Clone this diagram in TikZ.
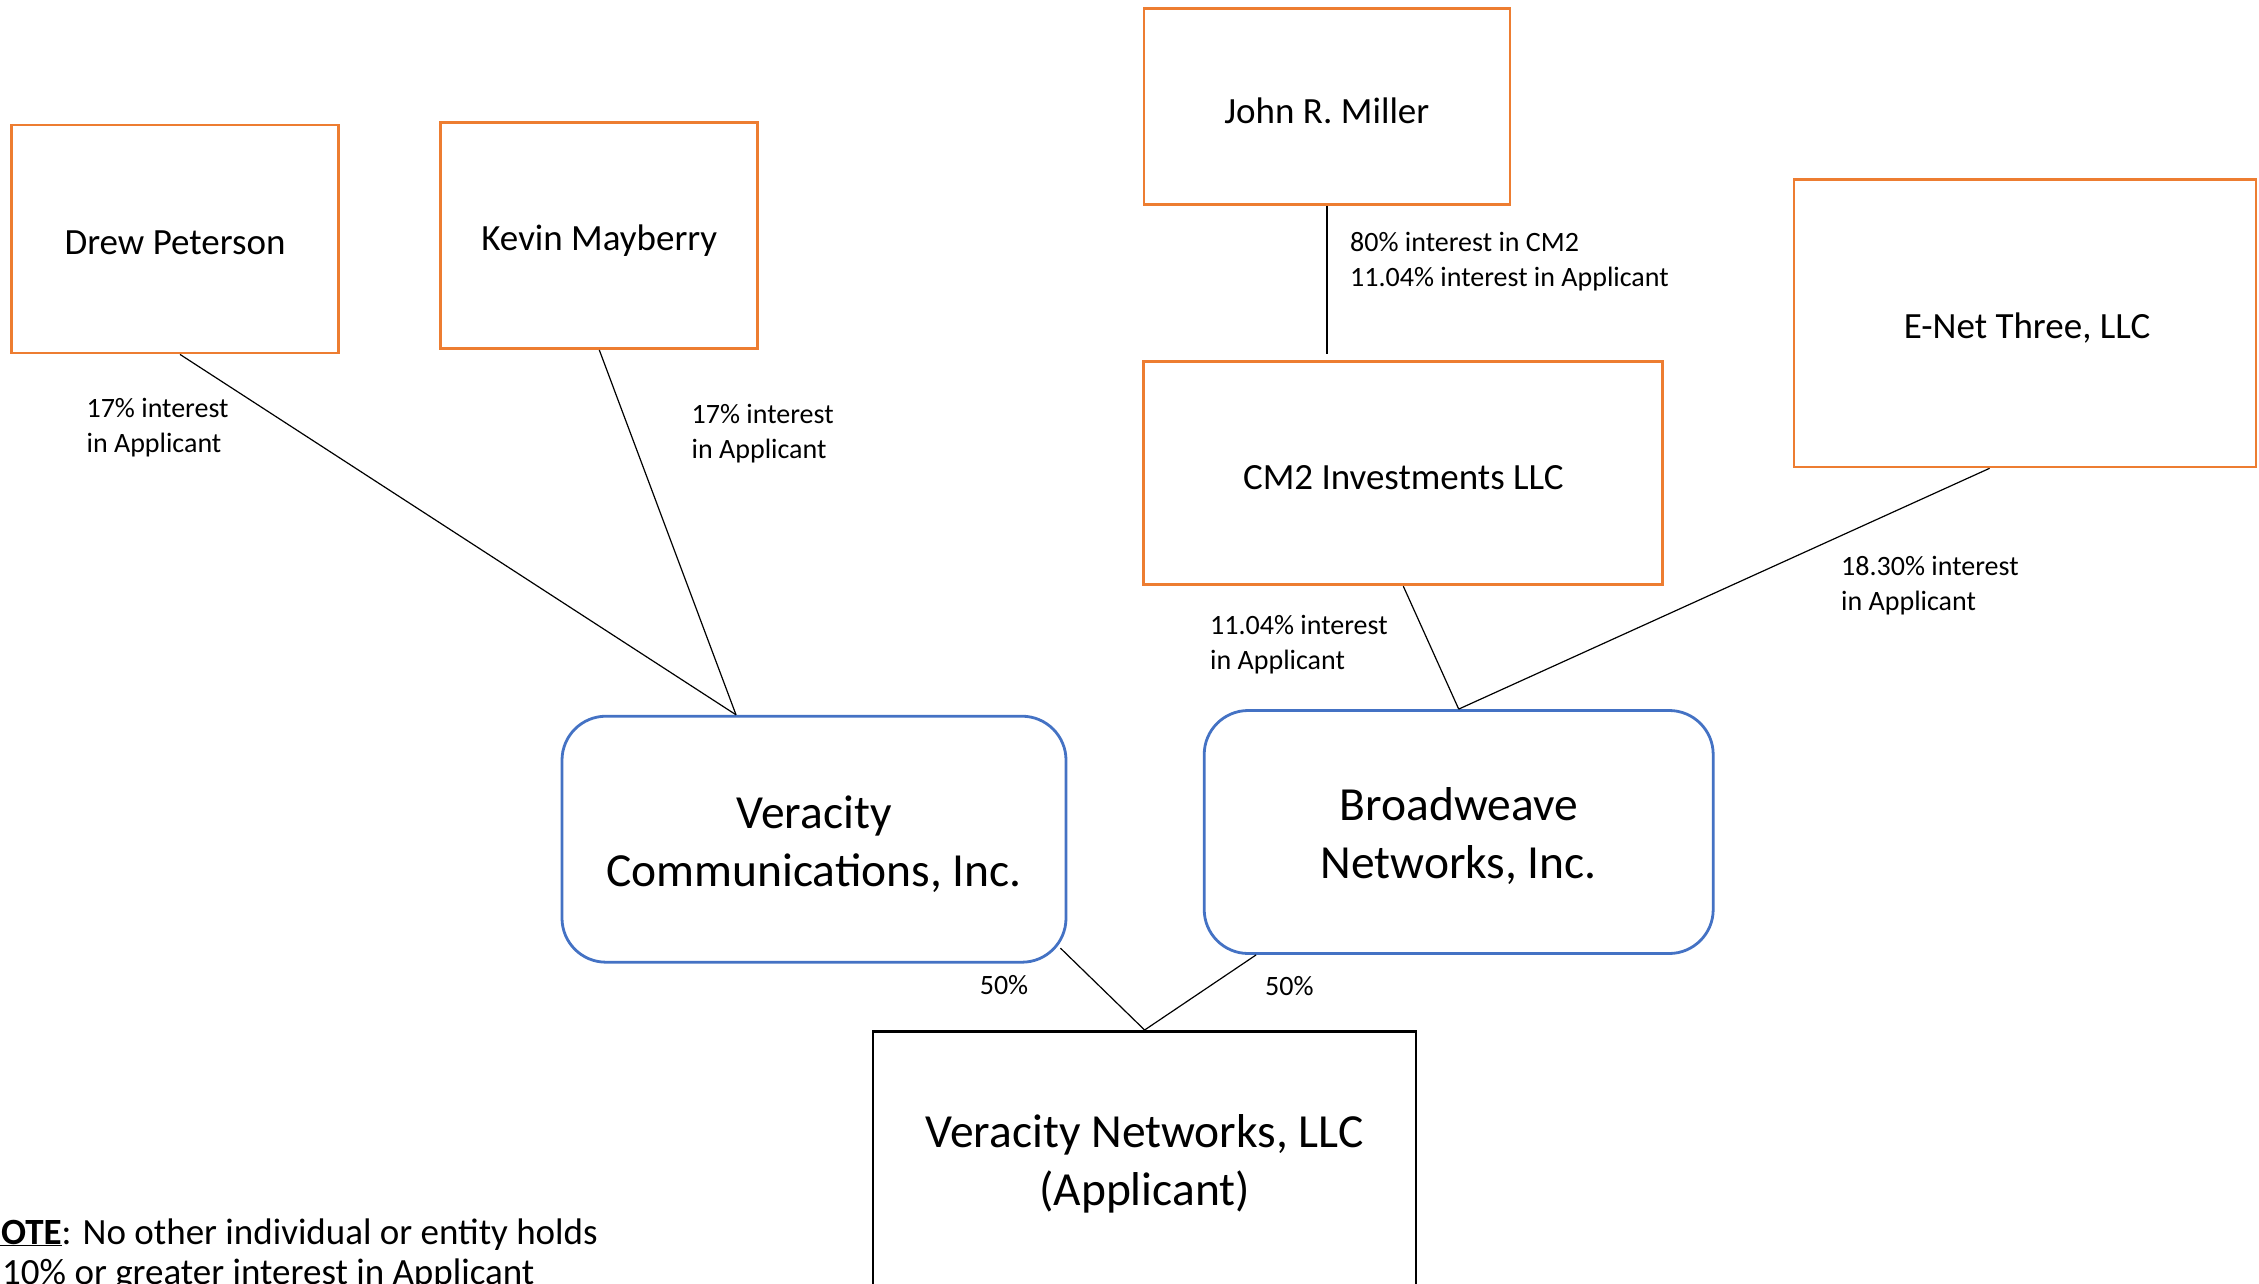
\documentclass[tikz,border=0pt]{standalone}
\usepackage{fontspec}
\setmainfont{Carlito}
\usetikzlibrary{calc}
\definecolor{boxorange}{HTML}{ED7D31}
\definecolor{boxblue}{HTML}{4472C4}
\begin{document}
\begin{tikzpicture}[x=1pt,y=-1pt,
  orangebox/.style={draw=boxorange, line width=2.8pt, inner sep=0pt},
  bluebox/.style={draw=boxblue, line width=2.8pt, rounded corners=44pt, inner sep=0pt},
  blackbox/.style={draw=black, line width=2.6pt, inner sep=0pt},
  smallname/.style={inner sep=0pt, align=center, font=\fontsize{37}{44}\selectfont},
  bigname/.style={inner sep=0pt, align=center, font=\fontsize{47.5}{57.5}\selectfont},
  share/.style={anchor=west, align=left, inner sep=0pt, font=\fontsize{28}{35}\selectfont},
  pct/.style={inner sep=0pt, font=\fontsize{28}{35}\selectfont},
  link/.style={draw=black, line width=1.2pt}]
\useasboundingbox (0,0) rectangle (2259,1284);
\fill[white] (0,0) rectangle (2259,1284);

% boxes
\node[orangebox, minimum width=327pt, minimum height=228pt] (drew) at (175,239) {};
\node[orangebox, minimum width=317pt, minimum height=226pt] (kevin) at (599.3,235.6) {};
\node[orangebox, minimum width=366pt, minimum height=196pt] (john) at (1326.9,106.6) {};
\node[orangebox, minimum width=462pt, minimum height=287pt] (enet) at (2025,323.4) {};
\node[orangebox, minimum width=519pt, minimum height=223pt] (cm2) at (1403.3,473.3) {};
\node[bluebox, minimum width=504pt, minimum height=246pt] (vc) at (814,839.2) {};
\node[bluebox, minimum width=509pt, minimum height=243pt] (bw) at (1458.7,832) {};
\node[blackbox, minimum width=543pt, minimum height=259pt] (vn) at (1144.6,1160.8) {};

% box texts
\node[smallname] (drewt) at ($(drew)+(0,4)$) {Drew Peterson};
\node[smallname] (kevint) at ($(kevin)+(0,5)$) {Kevin Mayberry};
\node[smallname] (johnt) at ($(john)+(0,4)$) {John R. Miller};
\node[smallname] (enett) at ($(enet)+(2,5)$) {E-Net Three, LLC};
\node[smallname] (cm2t) at ($(cm2)+(0,4)$) {CM2 Investments LLC};
\node[bigname] (vct) at ($(vc)+(0,5)$) {Veracity\\Communications, Inc.};
\node[bigname] (bwt) at ($(bw)+(0,4)$) {Broadweave\\Networks, Inc.};
\node[bigname] (vnt) at ($(vn)+(0,3)$) {Veracity Networks, LLC\\(Applicant)};

\coordinate (jm) at (1326.9,354.4);

% connectors
\draw[link] ($(drew.south)+(5,0)$) -- ($(vc.north)+(-78,0)$);
\draw[link] (kevin.south) -- ($(vc.north)+(-78,0)$);
\draw[link] (john.south) -- (jm);
\draw[link] (cm2.south) -- (bw.north);
\draw[link] ($(enet.south)+(-35.4,0)$) -- (bw.north);
\draw[link] ($(vc.south east)+(-7,-15.5)$) -- (vn.north);
\draw[link] ($(bw.south west)+(53.3,0)$) -- (vn.north);

% labels
\node[share] (l1) at (86.4,428) {17\% interest\\in Applicant};
\node[share] (l2) at (691.5,434) {17\% interest\\in Applicant};
\node[share] (l3) at (1350,262) {80\% interest in CM2\\11.04\% interest in Applicant};
\node[share] (l4) at (1210,644.5) {11.04\% interest\\in Applicant};
\node[share] (l5) at (1841,585.5) {18.30\% interest\\in Applicant};
\node[pct] (p1) at (1004,985) {50\%};
\node[pct] (p2) at (1289.4,986) {50\%};

% note
\node[anchor=base west, inner sep=0pt, font=\fontsize{37}{40}\selectfont] (note1) at (-23.5,1244) {\underline{\textbf{NOTE}}: No other individual or entity holds};
\node[anchor=base west, inner sep=0pt, font=\fontsize{37}{40}\selectfont] (note2) at (2,1284) {10\% or greater interest in Applicant};
\end{tikzpicture}
\end{document}
